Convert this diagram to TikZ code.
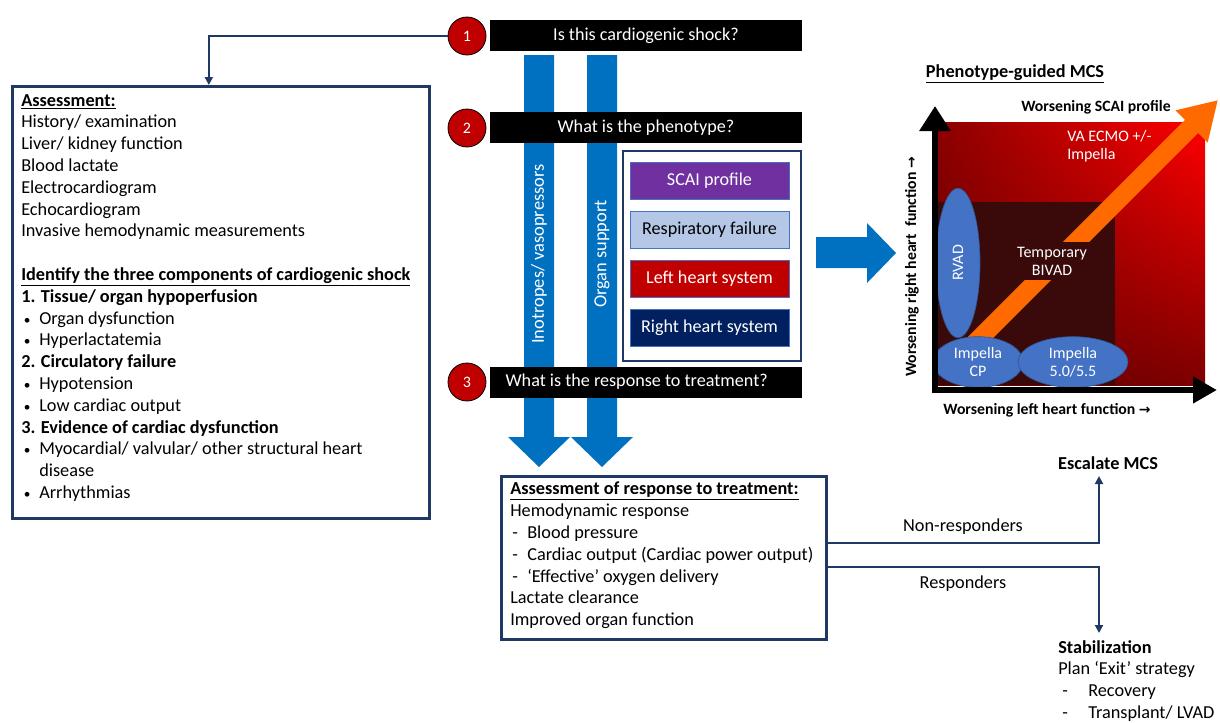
\documentclass[tikz,border=0pt]{standalone}
\usepackage{fontspec}
\setmainfont{Carlito}
\newfontfamily\djv{DejaVu Sans}
\usetikzlibrary{arrows.meta,shapes.geometric,calc,shadings}
\definecolor{navy}{HTML}{1F3864}
\definecolor{redc}{HTML}{C00000}
\definecolor{bluec}{HTML}{0070C0}
\definecolor{purp}{HTML}{7030A0}
\definecolor{lblue}{HTML}{B4C7E7}
\definecolor{dnavy}{HTML}{002060}
\definecolor{bord}{HTML}{4472C4}
\definecolor{ellc}{HTML}{4472C4}
\definecolor{elld}{HTML}{2F5597}
\definecolor{orng}{HTML}{FF6A00}
\definecolor{darkin}{HTML}{3A0A0A}
\definecolor{shUR}{HTML}{FF0000}
\definecolor{shUL}{HTML}{8C0000}
\definecolor{shLL}{HTML}{600000}
\definecolor{shLR}{HTML}{7D0000}
\newcommand{\mybul}{\makebox[13.5pt][l]{\hspace{2pt}{\fontsize{10}{10}\selectfont•}}}
\newcommand{\mydash}{\makebox[12.75pt][l]{\hspace{1.5pt}-}}
\newcommand{\mylongdash}{\makebox[22.5pt][l]{\hspace{3pt}-}}
\newcommand{\rarr}{{\djv\fontsize{10.5}{12}\selectfont →}}
\begin{document}
\begin{tikzpicture}[x=0.75pt,y=-0.75pt,
  bar/.style={fill=black, text=white, minimum width=234pt, minimum height=23.25pt, inner sep=0pt, font=\fontsize{13.6}{15}\selectfont},
  num/.style={circle, fill=redc, draw=black, line width=0.6pt, minimum size=28.5pt, inner sep=0pt, text=white, font=\fontsize{12}{14}\selectfont},
  pbox/.style={minimum width=119.25pt, minimum height=27.75pt, draw=bord, line width=0.6pt, inner sep=0pt, font=\fontsize{13.6}{15}\selectfont},
  navyline/.style={draw=navy, line width=1.5pt},
  frame/.style={draw=navy, line width=2pt, fill=white, anchor=north west, inner sep=0pt},
  body/.style={anchor=north west, align=left, inner sep=0pt, font=\fontsize{13.7}{16.35}\selectfont},
  ell/.style={ellipse, fill=ellc, draw=elld, line width=0.5pt, text=white, inner sep=0pt, align=center, font=\fontsize{12}{13.5}\selectfont},
  ctext/.style={font=\fontsize{12}{13.5}\selectfont, align=center, inner sep=0pt},
  tip/.style={-{Triangle[length=6pt,width=6pt]}}
]
\useasboundingbox (0,0) rectangle (1220,722);

% blue vertical shafts
\fill[bluec] (524,55) -- (554,55) -- (554,437) -- (570,437) -- (539,467) -- (508,437) -- (524,437) -- cycle;
\fill[bluec] (587,55) -- (617,55) -- (617,437) -- (633,437) -- (602,467) -- (571,437) -- (587,437) -- cycle;
\node[rotate=90, text=white, inner sep=0pt, font=\fontsize{13.8}{15}\selectfont] (inot) at (539,254) {Inotropes/ vasopressors};
\node[rotate=90, text=white, inner sep=0pt, font=\fontsize{13.8}{15}\selectfont] (orgs) at (602,254) {Organ support};

% bars and numbers
\node[bar] (b1) at (646,35.5) {Is this cardiogenic shock?};
\node[bar] (b2) at (646,127.5) {What is the phenotype?};
\node[bar] (b3) at (646,382) {\hspace{-14pt}What is the response to treatment?};
\node[num] (c1) at (467,36) {1};
\node[num] (c2) at (467,128) {2};
\node[num] (c3) at (467,382) {3};

% left assessment box
\node[frame, minimum width=312.75pt, minimum height=324pt] (assess) at (11,85) {};
\node[body] (assesstxt) at (21,94) {\textbf{\underline{Assessment:}}\\
History/ examination\\
Liver/ kidney function\\
Blood lactate\\
Electrocardiogram\\
Echocardiogram\\
Invasive hemodynamic measurements\\[16.35pt]
\textbf{\underline{Identify the three components of cardiogenic shock}}\\
\textbf{1. Tissue/ organ hypoperfusion}\\
\mybul Organ dysfunction\\
\mybul Hyperlactatemia\\
\textbf{2. Circulatory failure}\\
\mybul Hypotension\\
\mybul Low cardiac output\\
\textbf{3. Evidence of cardiac dysfunction}\\
\mybul Myocardial/ valvular/ other structural heart\\
\hspace*{13.5pt}disease\\
\mybul Arrhythmias};
\draw[navyline, tip] (c1.west) -| ([xshift=-9pt]assess.north);

% phenotype box
\node[draw=navy, line width=1.5pt, minimum width=133.5pt, minimum height=157.5pt, anchor=north west, inner sep=0pt] (phen) at (622,150) {};
\node[pbox, fill=purp, text=white] (scai) at (709.5,180.5) {SCAI profile};
\node[pbox, fill=lblue, text=black] (resp1) at (709.5,229.5) {Respiratory failure};
\node[pbox, fill=redc, text=white] (lhs) at (709.5,278.5) {Left heart system};
\node[pbox, fill=dnavy, text=white] (rhs) at (709.5,328) {Right heart system};

% big right arrow
\fill[bluec] (816,237) -- (867,237) -- (867,223) -- (896,253) -- (867,283) -- (867,268) -- (816,268) -- cycle;

% chart
\node[font=\fontsize{13.7}{15}\selectfont\bfseries, inner sep=0pt] (ptitle) at (1015,74) {\underline{Phenotype-guided MCS}};
\shade[upper right=shUR, upper left=shUL, lower left=shLL, lower right=shLR] (938,122) rectangle (1205,385);
\fill[darkin] (938,202) rectangle (1115,385);
\draw[orng, line width=14pt, -{Triangle[length=28pt,width=32pt]}] (962,356) -- (1218,100);
\node[ctext, text=white, fill=darkin, inner ysep=4pt, inner xsep=2pt] (bivad) at (1052,261) {Temporary\\BIVAD};
\node[ctext, text=white, anchor=north west, align=left] (vaecmo) at (1067,130) {VA ECMO +/-\\Impella};
\node[ell, minimum width=33pt, minimum height=112pt] (rvad) at (958,263) {};
\node[rotate=90, text=white, ctext] (rvadt) at (958,263) {RVAD};
\node[ell, minimum width=67.5pt, minimum height=38pt] (icp) at (978,362) {Impella\\CP};
\node[ell, minimum width=82.5pt, minimum height=38pt] (i55) at (1073,362) {Impella\\5.0/5.5};
\draw[black, line width=4.5pt, -{Triangle[length=18.75pt,width=22.5pt]}] (935,393) -- (935,106);
\draw[black, line width=4.5pt, -{Triangle[length=18pt,width=19pt]}] (932,390) -- (1217,390);
\node[ctext, font=\fontsize{11.8}{13}\selectfont\bfseries] (scaip) at (1096,107) {Worsening SCAI profile};
\node[ctext, font=\fontsize{11.8}{13}\selectfont\bfseries] (xlab) at (1047,410) {Worsening left heart function \rarr};
\node[ctext, font=\fontsize{11.8}{13}\selectfont\bfseries, rotate=90] (ylab) at (912,267) {Worsening right heart\ \ function \rarr};

% response box
\node[frame, minimum width=243.75pt, minimum height=122.25pt] (resp) at (500,475) {};
\node[body] (resptxt) at (510,482) {\textbf{\underline{Assessment of response to treatment:}}\\
Hemodynamic response\\
\mydash Blood pressure\\
\mydash Cardiac output (Cardiac power output)\\
\mydash ‘Effective’ oxygen delivery\\
Lactate clearance\\
Improved organ function};

% outcomes
\node[font=\fontsize{13.7}{15}\selectfont\bfseries, inner sep=0pt] (esc) at (1108,463) {Escalate MCS};
\coordinate (escpt) at (1099,476);
\coordinate (stabpt) at (1099,633);
\node[body] (stab) at (1058,640) {\textbf{Stabilization}\\
Plan ‘Exit’ strategy\\
\mylongdash Recovery\\
\mylongdash Transplant/ LVAD};
\draw[navyline, tip] ([yshift=10.9pt]resp.east) -| (escpt);
\draw[navyline, tip] ([yshift=-7.1pt]resp.east) -| (stabpt);
\node[font=\fontsize{13.7}{15}\selectfont, inner sep=0pt] (nonr) at (963,527) {Non-responders};
\node[font=\fontsize{13.7}{15}\selectfont, inner sep=0pt] (resps) at (963,584) {Responders};
\end{tikzpicture}
\end{document}
